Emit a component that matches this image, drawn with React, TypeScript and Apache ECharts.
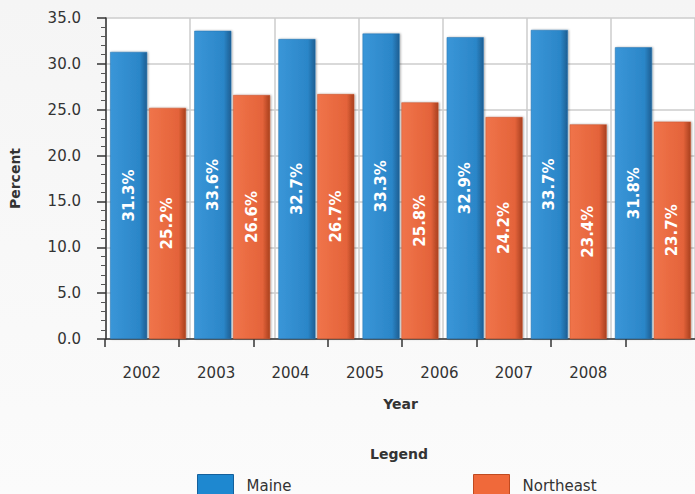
import React, { useEffect, useRef } from "react";
import * as echarts from "echarts";

const years = ["2002", "2003", "2004", "2005", "2006", "2007", "2008"];
const maine = [31.3, 33.6, 32.7, 33.3, 32.9, 33.7, 31.8];
const northeast = [25.2, 26.6, 26.7, 25.8, 24.2, 23.4, 23.7];
const seriesNames = ["Maine", "Northeast"];

const FONT = "DejaVu Sans";

export default function App() {
  const ref = useRef<HTMLDivElement>(null);
  useEffect(() => {
    document.body.style.margin = "0";
    const chart = echarts.init(ref.current!, null, { renderer: "svg" });
    const hGrad = (a: string, b: string, c: string) =>
      new echarts.graphic.LinearGradient(0, 0, 1, 0, [
        { offset: 0, color: a },
        { offset: 0.8, color: b },
        { offset: 1, color: c },
      ]);
    const label = {
      show: true,
      position: "inside",
      rotate: 90,
      color: "#ffffff",
      fontWeight: "bold",
      fontSize: 15,
      fontFamily: FONT,
      formatter: (p: any) => Number(p.value).toFixed(1) + "%",
    };
    chart.setOption({
      animation: false,
      backgroundColor: new echarts.graphic.LinearGradient(0, 0, 0, 1, [
        { offset: 0, color: "#f5f5f5" },
        { offset: 1, color: "#fbfbfb" },
      ]),
      textStyle: { fontFamily: FONT },
      grid: [
        { left: 106, right: -6, top: 18, bottom: 155, show: true, backgroundColor: "#ffffff", borderWidth: 0 },
        { left: 104.5, width: 521, top: 18, bottom: 155 },
      ],
      xAxis: [
        {
          type: "category",
          gridIndex: 0,
          data: years,
          axisLine: { show: true, lineStyle: { color: "#333333", width: 1.5 } },
          axisTick: { show: false },
          axisLabel: { show: false },
          splitLine: { show: true, lineStyle: { color: "#cccccc", width: 1.5 } },
          name: "Year",
          nameLocation: "middle",
          nameGap: 58,
          nameTextStyle: { fontWeight: "bold", fontSize: 14, color: "#333333", fontFamily: FONT },
        },
        {
          type: "category",
          gridIndex: 1,
          data: years,
          axisLine: { show: false },
          axisTick: { show: true, length: 8, lineStyle: { color: "#333333", width: 1.5 } },
          axisLabel: { show: true, margin: 26, fontSize: 15, color: "#333333", fontFamily: FONT },
          splitLine: { show: false },
        },
      ],
      yAxis: [
        {
          type: "value",
          gridIndex: 0,
          min: 0,
          max: 35,
          interval: 5,
          axisLine: { show: true, lineStyle: { color: "#333333", width: 1.5 } },
          axisTick: { show: true, length: 9, lineStyle: { color: "#333333", width: 1.5 } },
          minorTick: { show: true, splitNumber: 5, length: 5, lineStyle: { color: "#555555", width: 1 } },
          axisLabel: {
            margin: 25,
            fontSize: 15,
            color: "#333333",
            fontFamily: FONT,
            formatter: (v: number) => v.toFixed(1),
          },
          splitLine: { show: true, lineStyle: { color: "#cccccc", width: 1.5 } },
          name: "Percent",
          nameLocation: "middle",
          nameGap: 84,
          nameTextStyle: { fontWeight: "bold", fontSize: 14, color: "#333333", fontFamily: FONT },
        },
        { type: "value", gridIndex: 1, min: 0, max: 35, show: false },
      ],
      legend: [
        {
          data: [{ name: seriesNames[0], itemStyle: { color: "#1e88d0", borderColor: "#14609c", borderWidth: 1 } }],
          left: 197,
          top: 474,
          padding: 0,
          icon: "rect",
          itemWidth: 36,
          itemHeight: 22,
          textStyle: { fontSize: 15, color: "#333333", fontFamily: FONT, padding: [0, 0, 0, 8] },
        },
        {
          data: [{ name: seriesNames[1], itemStyle: { color: "#f0693a", borderColor: "#c04a20", borderWidth: 1 } }],
          left: 473,
          top: 474,
          padding: 0,
          icon: "rect",
          itemWidth: 36,
          itemHeight: 22,
          textStyle: { fontSize: 15, color: "#333333", fontFamily: FONT, padding: [0, 0, 0, 8] },
        },
      ],
      graphic: [
        {
          type: "text",
          left: 400 - 30,
          top: 447,
          style: { text: "Legend", fontWeight: "bold", fontSize: 14, fill: "#333333", fontFamily: FONT },
        },
        {
          type: "line",
          shape: { x1: 108, y1: 468, x2: 695, y2: 468 },
          style: {
            lineWidth: 2,
            stroke: new echarts.graphic.LinearGradient(0, 0, 1, 0, [
              { offset: 0, color: "#eeeeee" },
              { offset: 0.5, color: "#555555" },
              { offset: 1, color: "#eeeeee" },
            ]),
          },
        },
      ],
      series: [
        {
          name: seriesNames[0],
          type: "bar",
          xAxisIndex: 0,
          yAxisIndex: 0,
          data: maine,
          barWidth: 37,
          barGap: "5%",
          itemStyle: {
            color: hGrad("#3a96d8", "#2b86c8", "#1d5e92"),
            borderColor: "#2573b0",
            borderWidth: 0.5,
            shadowColor: "rgba(0,0,0,0.35)",
            shadowBlur: 2,
            shadowOffsetX: 1,
          },
          label,
        },
        {
          name: seriesNames[1],
          type: "bar",
          xAxisIndex: 0,
          yAxisIndex: 0,
          data: northeast,
          barWidth: 37,
          itemStyle: {
            color: hGrad("#f0744a", "#e4633a", "#a8401f"),
            borderColor: "#c8552f",
            borderWidth: 0.5,
            shadowColor: "rgba(0,0,0,0.35)",
            shadowBlur: 2,
            shadowOffsetX: 1,
          },
          label,
        },
      ],
    });
    return () => chart.dispose();
  }, []);
  return <div ref={ref} style={{ width: 695, height: 494 }} />;
}
